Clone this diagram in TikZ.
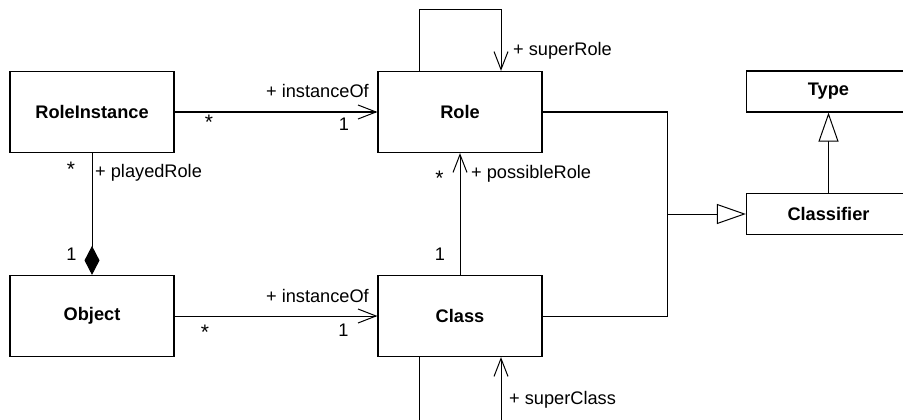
\documentclass[tikz,border=0pt]{standalone}
\usepackage{fontspec}
\setmainfont{Liberation Sans}
\usetikzlibrary{arrows.meta}
\begin{document}
\begin{tikzpicture}[x=1pt,y=-1pt,
  font=\fontsize{18.2}{22}\selectfont,
  umlclass/.style={draw, line width=1.2pt, fill=white, minimum width=164pt,
    minimum height=81pt, inner sep=0pt,
    font=\fontsize{18.2}{22}\selectfont\bfseries},
  slimclass/.style={umlclass, minimum height=41pt},
  conn/.style={line width=1pt},
  nav/.style={conn, -{Straight Barb[length=18pt,width=14pt]}},
  gen/.style={conn, -{Triangle[open,length=29pt,width=20pt,fill=white]}},
  comp/.style={conn, {Diamond[length=29pt,width=15pt]}-},
  lbl/.style={inner sep=0pt, anchor=base west},
  mult/.style={inner sep=0pt, anchor=base},
  many/.style={mult, font=\fontsize{21}{24}\selectfont},
]
\useasboundingbox (0,0) rectangle (903,420);
\clip (0,0) rectangle (903,420);

% classes
\node[umlclass] (ri)    at (92,112)    {RoleInstance};
\node[umlclass] (role)  at (460,112)   {Role};
\node[umlclass] (obj)   at (92,316)    {Object};
\node[umlclass] (class) at (460,316)   {Class};
\node[slimclass] (type) at (828.5,91.5) {Type};
\node[slimclass] (clf)  at (828.5,214)  {Classifier};

% bend points
\coordinate (rl1) at (419,10);
\coordinate (rl2) at (501,10);
\coordinate (cl1) at (419,440);
\coordinate (cl2) at (501,440);
\coordinate (j)   at (667,214);

% associations
\draw[nav] (ri.east) -- (role.west);
\draw[nav] (obj.east) -- (class.west);
\draw[comp] (obj.north) -- (ri.south);
\draw[nav] (class.north) -- (role.south);
\draw[nav] (role.north -| rl1) -- (rl1) -- (rl2) -- (role.north -| rl2);
\draw[nav] (class.south -| cl1) -- (cl1) -- (cl2) -- (class.south -| cl2);

% generalizations
\draw[conn] (role.east) -| (j);
\draw[conn] (class.east) -| (j);
\draw[gen] (j) -- (clf.west);
\draw[gen] (clf.north) -- (type.south);

% role ends
\node[lbl, anchor=base east] (io1) at (369,97) {+ instanceOf};
\node[many] (m1) at (209,129) {*};
\node[mult] (m2) at (344,130) {1};
\node[lbl, anchor=base east] (io2) at (369,302) {+ instanceOf};
\node[many] (m3) at (205,339) {*};
\node[mult] (m4) at (343.5,336) {1};
\node[lbl] (pr) at (95,177) {+ playedRole};
\node[many] (m5) at (71,176) {*};
\node[mult] (m6) at (71.5,260.5) {1};
\node[lbl] (sr) at (513,55.5) {+ superRole};
\node[lbl] (pos) at (471,178) {+ possibleRole};
\node[many] (m7) at (439.5,185.5) {*};
\node[mult] (m8) at (440,260) {1};
\node[lbl] (sc) at (509,404) {+ superClass};
\end{tikzpicture}
\end{document}
